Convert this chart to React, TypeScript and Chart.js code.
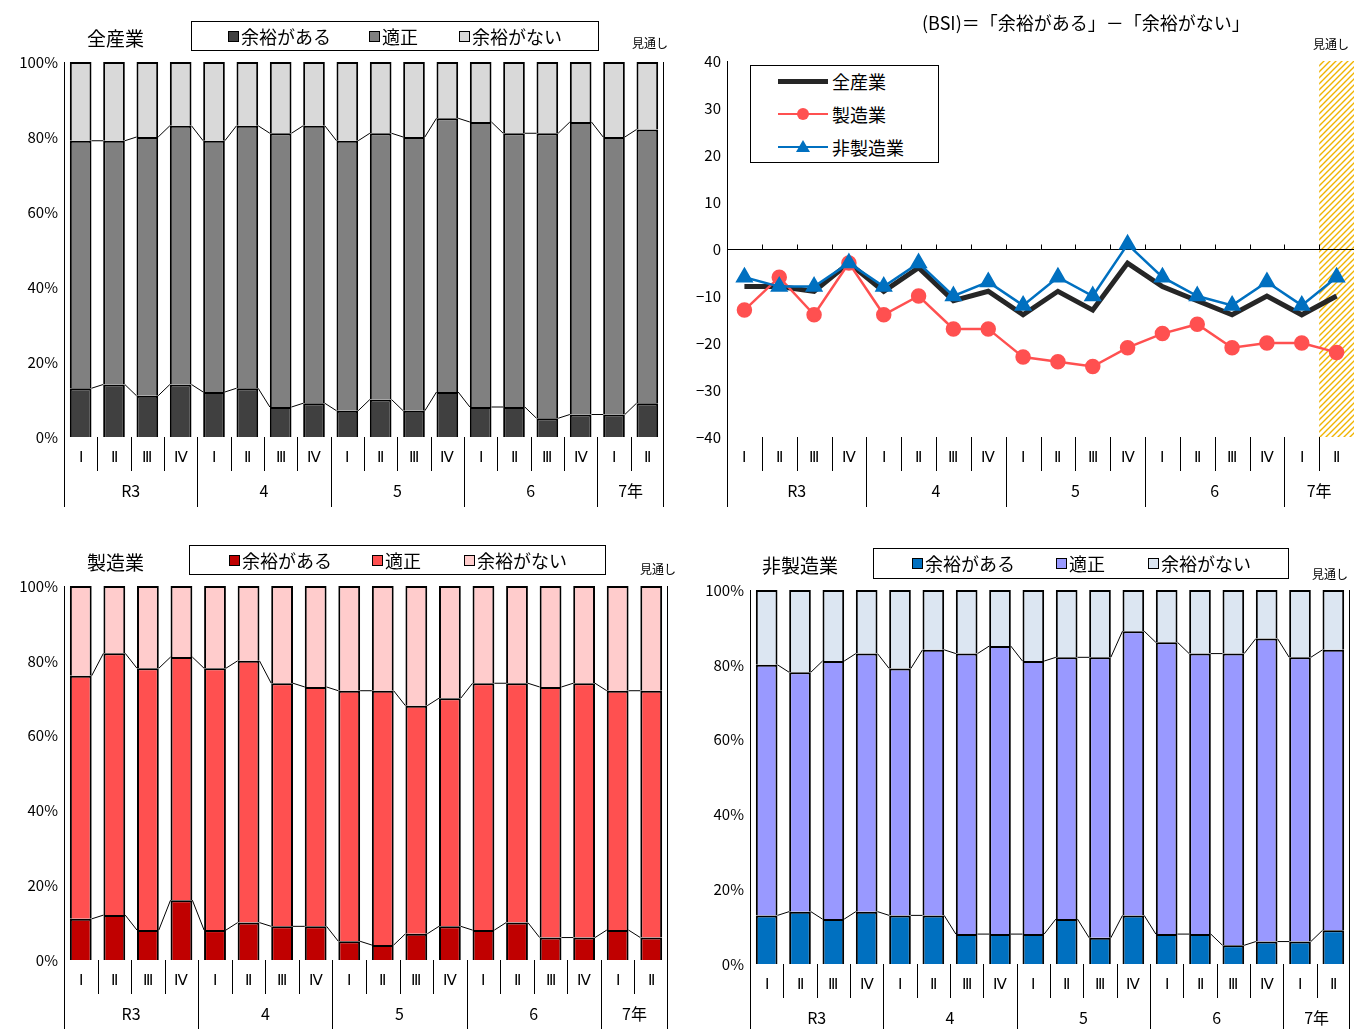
import React, { useEffect, useRef } from 'react';
import { Chart, registerables } from 'chart.js';

Chart.register(...registerables);

const quarters = ['Ⅰ', 'Ⅱ', 'Ⅲ', 'Ⅳ', 'Ⅰ', 'Ⅱ', 'Ⅲ', 'Ⅳ', 'Ⅰ', 'Ⅱ', 'Ⅲ', 'Ⅳ', 'Ⅰ', 'Ⅱ', 'Ⅲ', 'Ⅳ', 'Ⅰ', 'Ⅱ'];
const groupLabels = ['R3', '4', '5', '6', '7年'];
const groupSizes = [4, 4, 4, 4, 2];
const segNames = ['余裕がある', '適正', '余裕がない'];

// 全産業: 余裕がある share, and cumulative top of 適正
const allLow = [13, 14, 11, 14, 12, 13, 8, 9, 7, 10, 7, 12, 8, 8, 5, 6, 6, 9];
const allTop = [79, 79, 80, 83, 79, 83, 81, 83, 79, 81, 80, 85, 84, 81, 81, 84, 80, 82];
const mfgLow = [11, 12, 8, 16, 8, 10, 9, 9, 5, 4, 7, 9, 8, 10, 6, 6, 8, 6];
const mfgTop = [76, 82, 78, 81, 78, 80, 74, 73, 72, 72, 68, 70, 74, 74, 73, 74, 72, 72];
const nonLow = [13, 14, 12, 14, 13, 13, 8, 8, 8, 12, 7, 13, 8, 8, 5, 6, 6, 9];
const nonTop = [80, 78, 81, 83, 79, 84, 83, 85, 81, 82, 82, 89, 86, 83, 83, 87, 82, 84];

// BSI
const bsiAll = [-8, -8, -9, -3, -9, -4, -11, -9, -14, -9, -13, -3, -8, -11, -14, -10, -14, -10];
const bsiMfg = [-13, -6, -14, -3, -14, -10, -17, -17, -23, -24, -25, -21, -18, -16, -21, -20, -20, -22];
const bsiNon = [-6, -8, -8, -3, -8, -3, -10, -7, -12, -6, -10, 1, -6, -10, -12, -7, -12, -6];

const FONT = '"Noto Sans CJK JP", "Noto Sans", sans-serif';

const axisPlugin = {
  id: 'twoLevelAxis',
  afterDraw(chart: any) {
    const { ctx, chartArea: a } = chart;
    const n = quarters.length;
    const w = (a.right - a.left) / n;
    ctx.save();
    ctx.strokeStyle = '#000';
    ctx.lineWidth = 1;
    ctx.fillStyle = '#000';
    ctx.textAlign = 'center';
    ctx.textBaseline = 'middle';
    ctx.beginPath();
    ctx.moveTo(a.left + 0.5, a.top);
    ctx.lineTo(a.left + 0.5, a.bottom + 70);
    if (chart.config.type === 'bar') {
      ctx.moveTo(a.right - 0.5, a.top);
      ctx.lineTo(a.right - 0.5, a.bottom + 70);
    }
    for (let i = 1; i < n; i++) {
      const x = Math.round(a.left + i * w) + 0.5;
      ctx.moveTo(x, a.bottom);
      ctx.lineTo(x, a.bottom + 34);
    }
    let acc = 0;
    groupSizes.forEach((s, gi) => {
      const x0 = a.left + acc * w;
      acc += s;
      const x1 = a.left + acc * w;
      if (gi < groupSizes.length - 1) {
        ctx.moveTo(Math.round(x1) + 0.5, a.bottom);
        ctx.lineTo(Math.round(x1) + 0.5, a.bottom + 70);
      }
      ctx.font = `16px ${FONT}`;
      ctx.fillText(groupLabels[gi], (x0 + x1) / 2, a.bottom + 54);
    });
    ctx.stroke();
    ctx.font = `15px "Liberation Serif", serif`;
    quarters.forEach((q, i) => ctx.fillText(q, a.left + (i + 0.5) * w, a.bottom + 21));
    ctx.restore();
  },
};

const connectorPlugin = {
  id: 'connectors',
  afterDatasetsDraw(chart: any) {
    if (chart.config.type !== 'bar') return;
    const { ctx } = chart;
    ctx.save();
    ctx.strokeStyle = '#000';
    ctx.lineWidth = 1;
    [0, 1].forEach((k) => {
      const els = chart.getDatasetMeta(k).data;
      ctx.beginPath();
      for (let i = 0; i < els.length - 1; i++) {
        const a = els[i], b = els[i + 1];
        ctx.moveTo(a.x + a.width / 2, a.y);
        ctx.lineTo(b.x - b.width / 2, b.y);
      }
      ctx.stroke();
    });
    ctx.restore();
  },
};

const bsiPlugin = {
  id: 'bsiDecor',
  beforeDatasetsDraw(chart: any) {
    if (chart.config.type !== 'line') return;
    const { ctx, chartArea: a, scales } = chart;
    const n = quarters.length;
    const w = (a.right - a.left) / n;
    ctx.save();
    // hatched forecast area
    const p = document.createElement('canvas');
    p.width = 6; p.height = 6;
    const pc = p.getContext('2d')!;
    pc.strokeStyle = '#f0b400';
    pc.lineWidth = 1.4;
    pc.beginPath();
    pc.moveTo(0, 6); pc.lineTo(6, 0);
    pc.moveTo(-1, 1); pc.lineTo(1, -1);
    pc.moveTo(5, 7); pc.lineTo(7, 5);
    pc.stroke();
    ctx.fillStyle = ctx.createPattern(p, 'repeat');
    ctx.fillRect(a.left + (n - 1) * w, a.top, w, a.bottom - a.top);
    // zero line with ticks
    const y0 = Math.round(scales.y.getPixelForValue(0)) + 0.5;
    ctx.strokeStyle = '#000';
    ctx.lineWidth = 1;
    ctx.beginPath();
    ctx.moveTo(a.left, y0);
    ctx.lineTo(a.right, y0);
    for (let i = 1; i <= n; i++) {
      const x = Math.round(a.left + i * w) + 0.5;
      ctx.moveTo(x, y0);
      ctx.lineTo(x, y0 - 5);
    }
    ctx.stroke();
    ctx.restore();
  },
};

function useChart(cfg: () => any) {
  const ref = useRef<HTMLCanvasElement | null>(null);
  useEffect(() => {
    if (!ref.current) return;
    const chart = new Chart(ref.current, cfg());
    return () => chart.destroy();
  }, []);
  return ref;
}

type Box = { left: number; top: number; w: number; h: number; l: number; t: number; r: number; b: number };

function yAxis(min: number, max: number, step: number, width: number, fmt: (v: number) => string) {
  return {
    min, max,
    afterFit: (s: any) => { s.width = width; },
    grid: { display: false, drawTicks: false },
    border: { color: '#000', width: 1 },
    ticks: { stepSize: step, color: '#000', font: { family: FONT, size: 15 }, padding: 6, callback: (v: any) => fmt(Number(v)) },
  };
}

function StackPanel({ box, low, top, colors, title, legendBox, legendXs, mitooshi }: any) {
  const b: Box = box;
  const ref = useChart(() => ({
    type: 'bar',
    data: {
      labels: quarters,
      datasets: [
        { label: segNames[0], data: low, backgroundColor: colors[0] },
        { label: segNames[1], data: top.map((t: number, i: number) => t - low[i]), backgroundColor: colors[1] },
        { label: segNames[2], data: top.map((t: number) => 100 - t), backgroundColor: colors[2] },
      ].map((d) => ({ ...d, borderColor: '#000', borderWidth: 2, barPercentage: 0.65, categoryPercentage: 1 })),
    },
    options: {
      animation: false, responsive: false,
      layout: { autoPadding: false, padding: { left: b.l - b.left - 60, top: b.t - b.top, right: b.left + b.w - b.r, bottom: b.top + b.h - b.b } },
      plugins: { legend: { display: false }, tooltip: { enabled: false } },
      scales: {
        x: { display: false, stacked: true },
        y: { ...yAxis(0, 100, 20, 60, (v) => v + '%'), stacked: true },
      },
    },
    plugins: [axisPlugin, connectorPlugin],
  }));
  return (
    <>
      <canvas ref={ref} width={b.w} height={b.h} style={{ position: 'absolute', left: b.left, top: b.top }} />
      <div style={{ position: 'absolute', left: title[1], top: title[2], fontSize: 19 }}>{title[0]}</div>
      <div style={{ position: 'absolute', left: legendBox[0], top: legendBox[1], width: legendBox[2], height: legendBox[3], border: '1px solid #000', boxSizing: 'border-box' }} />
      {segNames.map((s, i) => (
        <div key={s} style={{ position: 'absolute', left: legendXs[i], top: legendBox[1] + 2, fontSize: 18, display: 'flex', alignItems: 'center' }}>
          <span style={{ display: 'inline-block', width: 9, height: 9, border: '1.5px solid #000', background: colors[i], marginRight: 2 }} />{s}
        </div>
      ))}
      <div style={{ position: 'absolute', left: mitooshi[0], top: mitooshi[1], fontSize: 12 }}>見通し</div>
    </>
  );
}

function BsiPanel() {
  const ref = useChart(() => ({
    type: 'line',
    data: {
      labels: quarters,
      datasets: [
        { label: '全産業', data: bsiAll, borderColor: '#262626', borderWidth: 5, pointRadius: 0 },
        { label: '製造業', data: bsiMfg, borderColor: '#ff5050', backgroundColor: '#ff5050', borderWidth: 2.5, pointStyle: 'circle', pointRadius: 6.5 },
        { label: '非製造業', data: bsiNon, borderColor: '#0070c0', backgroundColor: '#0070c0', borderWidth: 2.5, pointStyle: 'triangle', pointRadius: 8 },
      ].reverse(),
    },
    options: {
      animation: false, responsive: false,
      layout: { autoPadding: false, padding: { left: 0, top: 61, right: 0, bottom: 515 - 437 } },
      plugins: { legend: { display: false }, tooltip: { enabled: false } },
      scales: {
        x: { display: false, offset: true },
        y: yAxis(-40, 40, 10, 50, (v) => String(v).replace('-', '−')),
      },
    },
    plugins: [bsiPlugin, axisPlugin],
  }));
  const items: [string, string, string, number][] = [
    ['全産業', '#262626', 'none', 5],
    ['製造業', '#ff5050', 'circle', 2.5],
    ['非製造業', '#0070c0', 'tri', 2.5],
  ];
  return (
    <>
      <canvas ref={ref} width={677} height={515} style={{ position: 'absolute', left: 677, top: 0 }} />
      <div style={{ position: 'absolute', left: 922, top: 9, fontSize: 18 }}>(BSI)＝「余裕がある」－「余裕がない」</div>
      <div style={{ position: 'absolute', left: 1313, top: 35, fontSize: 12 }}>見通し</div>
      <div style={{ position: 'absolute', left: 750, top: 65, width: 189, height: 98, border: '1px solid #000', boxSizing: 'border-box', background: '#fff' }} />
      {items.map(([t, c, m, lw], i) => (
        <div key={t} style={{ position: 'absolute', left: 778, top: 68 + i * 33, fontSize: 18, display: 'flex', alignItems: 'center' }}>
          <span style={{ position: 'relative', display: 'inline-block', width: 50, height: 24, marginRight: 4 }}>
            <span style={{ position: 'absolute', left: 0, right: 0, top: 12 - lw / 2, height: lw, background: c }} />
            {m === 'circle' && <span style={{ position: 'absolute', left: 19, top: 6, width: 12, height: 12, borderRadius: 6, background: c }} />}
            {m === 'tri' && <span style={{ position: 'absolute', left: 18, top: 5, width: 0, height: 0, borderLeft: '7px solid transparent', borderRight: '7px solid transparent', borderBottom: `12px solid ${c}` }} />}
          </span>
          {t}
        </div>
      ))}
    </>
  );
}

export default function App() {
  return (
    <div style={{ position: 'absolute', left: 0, top: 0, width: 1354, height: 1029, fontFamily: FONT, background: '#fff', overflow: 'hidden' }}>
      <StackPanel
        box={{ left: 0, top: 0, w: 677, h: 515, l: 64, t: 62, r: 664, b: 437 }}
        low={allLow} top={allTop} colors={['#404040', '#808080', '#d9d9d9']}
        title={['全産業', 87, 24]} legendBox={[191, 21, 408, 30]} legendXs={[228, 369, 459]} mitooshi={[632, 34]}
      />
      <BsiPanel />
      <StackPanel
        box={{ left: 0, top: 515, w: 677, h: 514, l: 64, t: 586, r: 668, b: 960 }}
        low={mfgLow} top={mfgTop} colors={['#c00000', '#ff5050', '#ffcccc']}
        title={['製造業', 87, 548]} legendBox={[189, 545, 417, 30]} legendXs={[229, 372, 464]} mitooshi={[640, 560]}
      />
      <StackPanel
        box={{ left: 677, top: 515, w: 677, h: 514, l: 750, t: 590, r: 1350, b: 964 }}
        low={nonLow} top={nonTop} colors={['#0070c0', '#9999ff', '#dce6f2']}
        title={['非製造業', 762, 551]} legendBox={[873, 548, 416, 31]} legendXs={[912, 1056, 1148]} mitooshi={[1312, 565]}
      />
    </div>
  );
}
